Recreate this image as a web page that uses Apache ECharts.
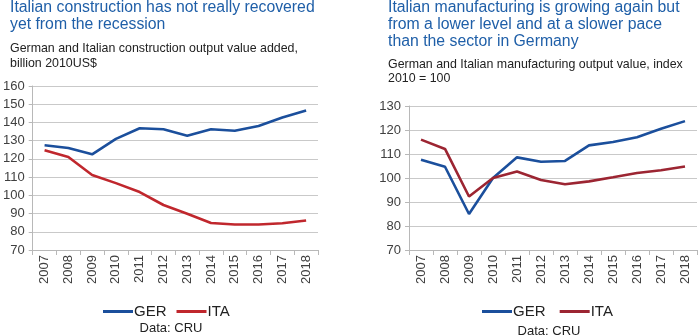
<!DOCTYPE html>
<html>
<head>
<meta charset="utf-8">
<script src="https://cdn.jsdelivr.net/npm/echarts@6/dist/echarts.min.js"></script>
<style>html,body{margin:0;padding:0;background:#fff;}#c{width:698px;height:336px;}</style>
</head>
<body>
<div id="c"></div>
<script>
var years = ['2007','2008','2009','2010','2011','2012','2013','2014','2015','2016','2017','2018'];
var constrGER = [127.5, 126, 122.5, 131, 136.8, 136.3, 132.7, 136.3, 135.4, 138, 142.7, 146.6];
var constrITA = [124.7, 121, 111.2, 106.7, 101.8, 94.7, 89.9, 84.8, 84, 84, 84.7, 86.2];
var manufGER = [107.6, 104.7, 85, 100, 108.6, 106.8, 107.1, 113.6, 115, 117, 120.5, 123.7];
var manufITA = [116, 112.1, 92.3, 100, 102.7, 99.2, 97.4, 98.6, 100.3, 102.1, 103.2, 104.8];
var leftTicks = {min: 70, max: 160, interval: 10};
var rightTicks = {min: 70, max: 130, interval: 10};

var FONT = '"Liberation Sans", Arial, sans-serif';
var BLUE = '#1b4f9c';
var RED_L = '#c0272d';
var RED_R = '#9c2532';
var TITLE = '#1f5fa8';
var GRID = '#c9c9c9';
var AXIS = '#b8b8b8';
var LABEL = '#404040';

function xAxis(idx) {
  return {
    type: 'category', gridIndex: idx, data: years, boundaryGap: true,
    axisLine: {show: true, lineStyle: {color: AXIS, width: 1}},
    axisTick: {show: true, length: 5, lineStyle: {color: AXIS}},
    axisLabel: {rotate: 90, fontSize: 13, color: LABEL, fontFamily: FONT, margin: 5, interval: 0},
    splitLine: {show: false}
  };
}
function yAxis(idx, t) {
  return {
    type: 'value', gridIndex: idx, min: t.min, max: t.max, interval: t.interval,
    axisLine: {show: true, lineStyle: {color: AXIS, width: 1}},
    axisTick: {show: true, length: 4, lineStyle: {color: AXIS}},
    axisLabel: {fontSize: 13, color: LABEL, fontFamily: FONT, margin: 8},
    splitLine: {show: true, lineStyle: {color: GRID, width: 1}}
  };
}
function line(name, data, color, idx) {
  return {
    name: name, type: 'line', xAxisIndex: idx, yAxisIndex: idx, data: data,
    symbol: 'none', smooth: false, lineStyle: {color: color, width: 2.6},
    itemStyle: {color: color}, animation: false
  };
}

var chart = echarts.init(document.getElementById('c'), null, {renderer: 'canvas'});
chart.setOption({
  backgroundColor: '#fff',
  animation: false,
  grid: [
    {left: 31, right: 380, top: 86, bottom: 86},
    {left: 409, right: 1, top: 106, bottom: 86}
  ],
  xAxis: [xAxis(0), xAxis(1)],
  yAxis: [yAxis(0, leftTicks), yAxis(1, rightTicks)],
  legend: [
    {
      left: 98, top: 299, itemWidth: 30, itemHeight: 3, itemGap: 10, icon: 'rect',
      textStyle: {fontSize: 15, color: '#222', fontFamily: FONT, padding: [0,0,0,-4]},
      data: [{name: 'GER', itemStyle: {color: BLUE}}, {name: 'ITA', itemStyle: {color: RED_L}}],
      selectedMode: false
    },
    {
      left: 477, top: 299, itemWidth: 30, itemHeight: 3, itemGap: 10, icon: 'rect',
      textStyle: {fontSize: 15, color: '#222', fontFamily: FONT, padding: [0,0,0,-4]},
      data: [{name: 'GER ', itemStyle: {color: BLUE}}, {name: 'ITA ', itemStyle: {color: RED_R}}],
      selectedMode: false
    }
  ],
  series: [
    line('GER', constrGER, BLUE, 0),
    line('ITA', constrITA, RED_L, 0),
    line('GER ', manufGER, BLUE, 1),
    line('ITA ', manufITA, RED_R, 1)
  ],
  graphic: [
    {type: 'text', left: 10, top: -1, style: {text: 'Italian construction has not really recovered\nyet from the recession', font: '15.8px ' + FONT, fill: TITLE, lineHeight: 17}},
    {type: 'text', left: 10, top: 41, style: {text: 'German and Italian construction output value added,\nbillion 2010US$', font: '12.4px ' + FONT, fill: '#222', lineHeight: 15}},
    {type: 'text', left: 388, top: -1, style: {text: 'Italian manufacturing is growing again but\nfrom a lower level and at a slower pace\nthan the sector in Germany', font: '15.8px ' + FONT, fill: TITLE, lineHeight: 17}},
    {type: 'text', left: 388, top: 58, style: {text: 'German and Italian manufacturing output value, index\n2010 = 100', font: '12.4px ' + FONT, fill: '#222', lineHeight: 14}},
    {type: 'text', x: 171, y: 328, style: {text: 'Data: CRU', font: '13px ' + FONT, fill: '#222', textAlign: 'center', textVerticalAlign: 'middle'}},
    {type: 'text', x: 549, y: 331, style: {text: 'Data: CRU', font: '13px ' + FONT, fill: '#222', textAlign: 'center', textVerticalAlign: 'middle'}}
  ]
});
</script>
</body>
</html>
